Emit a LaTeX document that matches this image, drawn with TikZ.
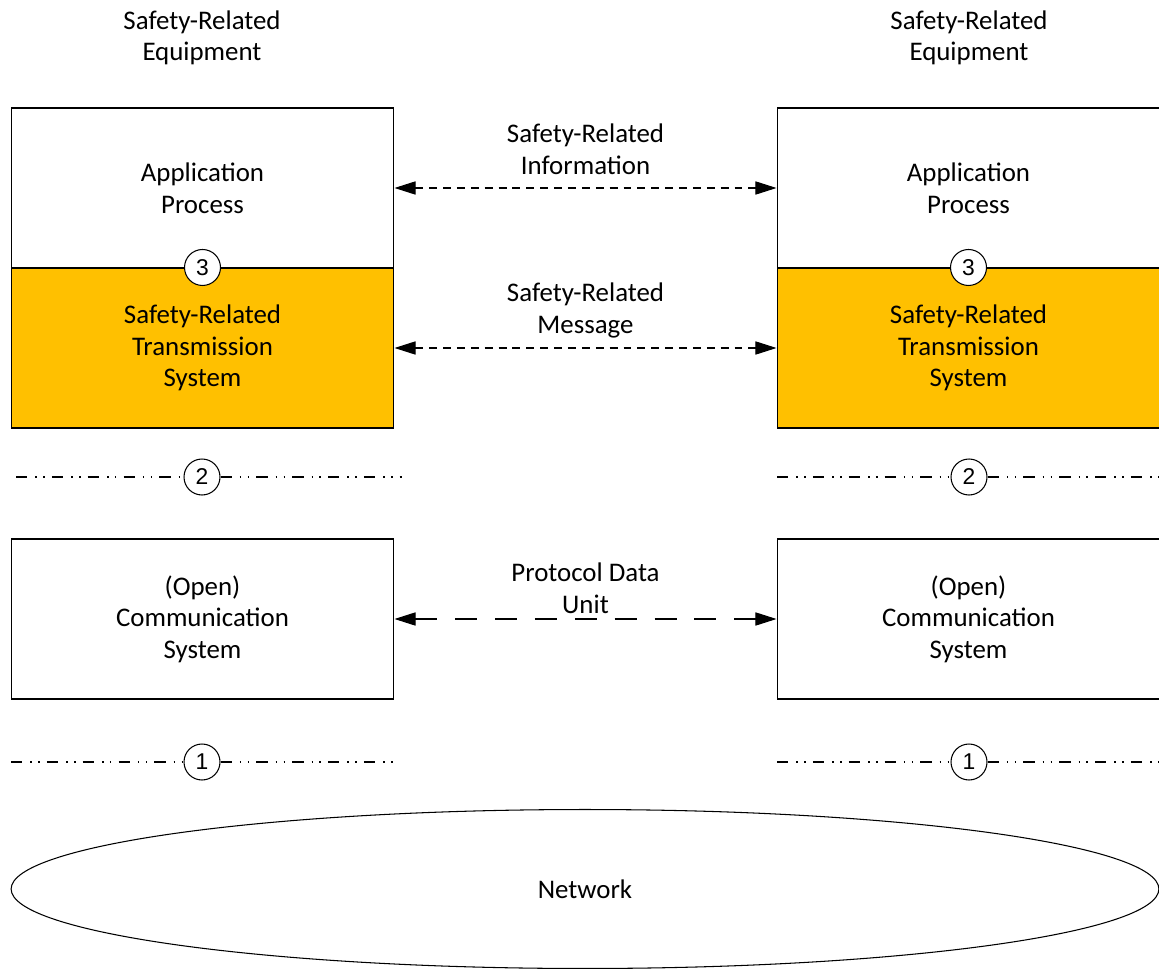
\documentclass[tikz,border=0pt]{standalone}
\usepackage{fontspec}
\setmainfont{Carlito}
\newfontfamily\numfont{Liberation Sans}
\usetikzlibrary{shapes.geometric, arrows.meta, positioning}
\definecolor{srtsorange}{RGB}{255,192,0}

\begin{document}
\begin{tikzpicture}[
    x=0.02cm, y=-0.02cm,
    line width=0.6pt,
    txt/.style={align=center, font=\fontsize{15.3}{18}\selectfont},
    layer/.style={rectangle, draw, line width=0.6pt, minimum width=7.66cm, minimum height=3.2cm, txt},
    num/.style={circle, draw, fill=white, line width=0.6pt, minimum size=0.72cm, inner sep=0pt, font=\numfont\fontsize{13}{13}\selectfont},
    iface/.style={line width=0.6pt, dash pattern=on 6.5pt off 4.5pt on 0.9pt off 3.6pt on 0.9pt off 4pt},
    msg/.style={{Triangle[length=12pt, width=7.5pt]}-{Triangle[length=12pt, width=7.5pt]}, dash pattern=on 4.5pt off 3.4pt},
    pdu/.style={{Triangle[length=12pt, width=7.5pt]}-{Triangle[length=12pt, width=7.5pt]}, dash pattern=on 12.5pt off 10.2pt}
]
\clip (0,0) rectangle (1159,969);

% Left equipment
\node[txt] (equipL) at (202,38) {Safety-Related\\Equipment};
\node[layer] (appL) at (202.5,188) {Application\\Process};
\node[layer, fill=srtsorange] (srtsL) at (202.5,348) {Safety-Related\\Transmission\\System};
\node[layer] (commL) at (202.5,619) {(Open)\\Communication\\System};
\node[num] (n3L) at (srtsL.north) {3};

% Right equipment
\node[txt] (equipR) at (969,38) {Safety-Related\\Equipment};
\node[layer] (appR) at (968.5,188) {Application\\Process};
\node[layer, fill=srtsorange] (srtsR) at (968.5,348) {Safety-Related\\Transmission\\System};
\node[layer] (commR) at (968.5,619) {(Open)\\Communication\\System};
\node[num] (n3R) at (srtsR.north) {3};

% Interfaces 2 and 1
\node[num] (n2L) at (202,477) {2};
\node[num] (n2R) at (969,477) {2};
\node[num] (n1L) at (202,762) {1};
\node[num] (n1R) at (969,762) {1};
\coordinate (i2La) at (16,477);  \coordinate (i2Lb) at (402,477);
\coordinate (i2Ra) at (777,477); \coordinate (i2Rb) at (1159,477);
\coordinate (i1La) at (11,762);  \coordinate (i1Lb) at (396,762);
\coordinate (i1Ra) at (777,762); \coordinate (i1Rb) at (1159,762);
\draw[iface] (i2La) -- (n2L) (n2L) -- (i2Lb);
\draw[iface] (i2Ra) -- (n2R) (n2R) -- (i2Rb);
\draw[iface] (i1La) -- (n1L) (n1L) -- (i1Lb);
\draw[iface] (i1Ra) -- (n1R) (n1R) -- (i1Rb);

% Peer communication
\draw[msg] (appL.east) -- (appR.west) node[midway, above=4pt, txt] {Safety-Related\\Information};
\draw[msg] (srtsL.east) -- (srtsR.west) node[midway, above=2pt, txt] {Safety-Related\\Message};
\draw[pdu] (commL.east) -- (commR.west) node[midway, above=-0.5pt, txt] {Protocol Data\\Unit};

% Network
\node[ellipse, draw, line width=0.6pt, minimum width=22.96cm, minimum height=3.18cm, txt] (net) at (585,889) {Network};

\end{tikzpicture}
\end{document}
